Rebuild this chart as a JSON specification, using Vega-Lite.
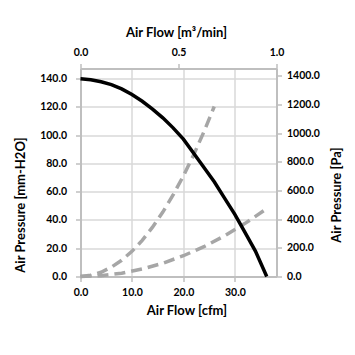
{
  "$schema": "https://vega.github.io/schema/vega-lite/v6.json",
  "width": 196,
  "height": 208,
  "autosize": {"type": "none"},
  "padding": {"left": 80.5, "top": 68.5, "right": 78.5, "bottom": 78.5},
  "background": "white",
  "datasets": {
    "curves": [
      {"series": "fan", "cfm": 0, "p": 140},
      {"series": "fan", "cfm": 2, "p": 139.2},
      {"series": "fan", "cfm": 4, "p": 137.8},
      {"series": "fan", "cfm": 6, "p": 135.8},
      {"series": "fan", "cfm": 8, "p": 132.8},
      {"series": "fan", "cfm": 10, "p": 128.8},
      {"series": "fan", "cfm": 12, "p": 124},
      {"series": "fan", "cfm": 14, "p": 118.5},
      {"series": "fan", "cfm": 16, "p": 112.3},
      {"series": "fan", "cfm": 18, "p": 105.2},
      {"series": "fan", "cfm": 20, "p": 97.2},
      {"series": "fan", "cfm": 22, "p": 87.2},
      {"series": "fan", "cfm": 24, "p": 77.2},
      {"series": "fan", "cfm": 26, "p": 67},
      {"series": "fan", "cfm": 28, "p": 55.5},
      {"series": "fan", "cfm": 30, "p": 44},
      {"series": "fan", "cfm": 32, "p": 31},
      {"series": "fan", "cfm": 34, "p": 18},
      {"series": "fan", "cfm": 36.2, "p": 0},
      {"series": "sys1", "cfm": 0, "p": 0},
      {"series": "sys1", "cfm": 2, "p": 0.9},
      {"series": "sys1", "cfm": 4, "p": 3},
      {"series": "sys1", "cfm": 6, "p": 6.6},
      {"series": "sys1", "cfm": 8, "p": 11.5},
      {"series": "sys1", "cfm": 10, "p": 17.8},
      {"series": "sys1", "cfm": 12, "p": 25.6},
      {"series": "sys1", "cfm": 14, "p": 34.9},
      {"series": "sys1", "cfm": 16, "p": 45.6},
      {"series": "sys1", "cfm": 18, "p": 57.7},
      {"series": "sys1", "cfm": 20, "p": 71.2},
      {"series": "sys1", "cfm": 22, "p": 86.1},
      {"series": "sys1", "cfm": 24, "p": 102.5},
      {"series": "sys1", "cfm": 26, "p": 120.3},
      {"series": "sys2", "cfm": 0, "p": 0},
      {"series": "sys2", "cfm": 4, "p": 0.6},
      {"series": "sys2", "cfm": 8, "p": 2.3},
      {"series": "sys2", "cfm": 12, "p": 5.3},
      {"series": "sys2", "cfm": 16, "p": 9.4},
      {"series": "sys2", "cfm": 20, "p": 14.7},
      {"series": "sys2", "cfm": 24, "p": 21.1},
      {"series": "sys2", "cfm": 28, "p": 28.8},
      {"series": "sys2", "cfm": 32, "p": 37.6},
      {"series": "sys2", "cfm": 35.6, "p": 46.5}
    ],
    "axes": [
      {"m3": 0, "pa": 0},
      {"m3": 1, "pa": 1400}
    ]
  },
  "config": {
    "view": {"stroke": null},
    "axis": {
      "labelFont": "Lato",
      "labelFontWeight": "bold",
      "labelFontSize": 10.5,
      "labelColor": "#000000",
      "titleFont": "Lato",
      "titleFontWeight": "bold",
      "titleFontSize": 13,
      "titleColor": "#000000",
      "domainColor": "#bfbfbf",
      "domainWidth": 2,
      "tickColor": "#bfbfbf",
      "tickWidth": 1.5,
      "tickSize": 5,
      "gridColor": "#d9d9d9",
      "gridWidth": 1.5,
      "titleBaseline": "middle",
      "titleAlign": "center"
    }
  },
  "layer": [
    {
      "data": {"name": "curves"},
      "layer": [
        {
          "transform": [{"filter": "datum.series != 'fan'"}],
          "mark": {"type": "line", "color": "#a6a6a6", "strokeWidth": 3.5, "strokeDash": [11, 6]},
          "encoding": {
            "x": {"field": "cfm", "type": "quantitative", "scale": {"domain": [0, 38.1], "nice": false, "zero": false},
              "axis": {"orient": "bottom", "values": [0, 10, 20, 30], "format": ".1f", "grid": true, "labelPadding": 6, "title": "Air Flow [cfm]", "titleX": 106, "titleY": 33.5, "labelFlush": false}},
            "y": {"field": "p", "type": "quantitative", "scale": {"domain": [0, 147.2], "nice": false, "zero": false},
              "axis": {"orient": "left", "values": [0, 20, 40, 60, 80, 100, 120, 140], "format": ".1f", "grid": true, "labelPadding": 9, "title": "Air Pressure [mm-H2O]", "titleX": -60.5, "titleY": 136, "titleAngle": -90}},
            "detail": {"field": "series"}
          }
        },
        {
          "transform": [{"filter": "datum.series == 'fan'"}],
          "mark": {"type": "line", "color": "#000000", "strokeWidth": 3.5},
          "encoding": {
            "x": {"field": "cfm", "type": "quantitative", "scale": {"domain": [0, 38.1], "nice": false, "zero": false},
              "axis": {"orient": "bottom", "values": [0, 10, 20, 30], "format": ".1f", "grid": true, "labelPadding": 6, "title": "Air Flow [cfm]", "titleX": 106, "titleY": 33.5, "labelFlush": false}},
            "y": {"field": "p", "type": "quantitative", "scale": {"domain": [0, 147.2], "nice": false, "zero": false},
              "axis": {"orient": "left", "values": [0, 20, 40, 60, 80, 100, 120, 140], "format": ".1f", "grid": true, "labelPadding": 9, "title": "Air Pressure [mm-H2O]", "titleX": -60.5, "titleY": 136, "titleAngle": -90}}
          }
        }
      ]
    },
    {
      "data": {"name": "axes"},
      "mark": {"type": "point", "opacity": 0},
      "encoding": {
        "x": {"field": "m3", "type": "quantitative", "scale": {"domain": [0, 1], "nice": false, "zero": false},
          "axis": {"orient": "top", "values": [0, 0.5, 1], "format": ".1f", "grid": false, "labelPadding": 6, "title": "Air Flow [m³/min]", "titleX": 95.5, "titleY": -36, "labelFlush": false}},
        "y": {"field": "pa", "type": "quantitative", "scale": {"domain": [0, 1451], "nice": false, "zero": false},
          "axis": {"orient": "right", "values": [0, 200, 400, 600, 800, 1000, 1200, 1400], "format": ".1f", "grid": false, "labelPadding": 5, "title": "Air Pressure [Pa]", "titleX": 60, "titleY": 126, "titleAngle": -90}}
      }
    }
  ],
  "resolve": {"scale": {"x": "independent", "y": "independent"}}
}
